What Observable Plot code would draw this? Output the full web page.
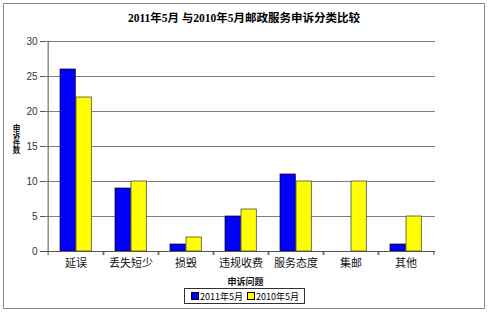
<!DOCTYPE html>
<html><head><meta charset="utf-8">
<script src="https://cdn.jsdelivr.net/npm/d3@7"></script>
<script src="https://cdn.jsdelivr.net/npm/@observablehq/plot@0.6"></script>
<style>
body{margin:0;background:#fff;}
#chart{position:relative;width:488px;height:312px;overflow:hidden;background:#fff;font-family:"Noto Sans CJK SC",sans-serif;}
#frame{position:absolute;left:3px;top:3px;width:482px;height:306px;border:1px solid #888;box-sizing:border-box;}
#title{position:absolute;left:0;top:10px;width:488px;text-align:center;font:bold 11.5px/16px "Liberation Serif","Noto Sans CJK SC",serif;color:#000;}
#plot{position:absolute;left:0;top:30px;}
#ylabel{position:absolute;left:12px;top:124px;writing-mode:vertical-rl;text-orientation:upright;font:bold 7.5px/9px "Noto Sans CJK SC",sans-serif;letter-spacing:0px;color:#111;}
#legend{position:absolute;left:184px;top:288px;width:121px;height:16px;border:1px solid #333;box-sizing:border-box;display:flex;align-items:center;font-size:9px;color:#000;padding-left:6px;}
#legend .sw{display:inline-block;width:6px;height:6px;border:1px solid #000;margin-right:1px;}
#legend .it{display:flex;align-items:center;margin-right:4px;}
</style></head>
<body>
<div id="chart">
  <div id="frame"></div>
  <div id="title"></div>
  <div id="plot"></div>
  <div id="ylabel"></div>
  <div id="legend"></div>
</div>
<script>
const title = "2011年5月 与2010年5月邮政服务申诉分类比较";
const categories = ["延误", "丢失短少", "损毁", "违规收费", "服务态度", "集邮", "其他"];
const series = ["2011年5月", "2010年5月"];
const values2011 = [26, 9, 1, 5, 11, 0, 1];
const values2010 = [22, 10, 2, 6, 10, 10, 5];
const yTicks = [0, 5, 10, 15, 20, 25, 30];
const yLabel = "申诉件数";
const xLabel = "申诉问题";
const colors = ["#0000FF", "#FFFF00"];

document.getElementById("title").textContent = title;
document.getElementById("ylabel").textContent = yLabel;

const W = 488, H = 259, mL = 45, mR = 53, mT = 11, mB = 38;
const step = (W - mL - mR) / categories.length;

const rows = categories.map((c, i) => ({cat: c, a: values2011[i], b: values2010[i]}));

const plot = Plot.plot({
  width: W, height: H,
  marginLeft: mL, marginRight: mR, marginTop: mT, marginBottom: mB,
  style: {fontFamily: "'Noto Sans CJK SC', sans-serif", background: "transparent", overflow: "visible"},
  x: {domain: categories, padding: 0, axis: null},
  y: {domain: [0, 30], axis: null},
  marks: [
    Plot.gridY(yTicks, {stroke: "#808080", strokeOpacity: 1}),
    Plot.barY(rows, {x: "cat", y: "a", fill: colors[0], stroke: "#000", strokeWidth: 0.7, insetLeft: 12, insetRight: step - 28}),
    Plot.barY(rows, {x: "cat", y: "b", fill: colors[1], stroke: "#333", strokeWidth: 0.7, insetLeft: 28, insetRight: step - 44}),
    Plot.ruleY([0], {stroke: "#555"}),
    Plot.ruleX([categories[0]], {y1: 0, y2: 30, dx: -step / 2, stroke: "#555"}),
    Plot.axisY({ticks: yTicks, tickSize: 5, tickPadding: 3, fontSize: 10, fontFamily: "'Liberation Sans', Arial, sans-serif", stroke: "#555", fill: "#333", label: null}),
    Plot.axisX({tickSize: 4, text: null, dx: -step / 2, stroke: "#555", label: null}),
    Plot.axisX({tickSize: 4, text: null, dx: step / 2, stroke: "#555", label: null}),
    Plot.axisX({tickSize: 0, tickPadding: 8, fontSize: 11, fill: "#111", label: null}),
    Plot.text([xLabel], {frameAnchor: "bottom", dy: 31, dx: 5, lineAnchor: "middle", fontSize: 9, fontWeight: "bold", fill: "#111"})
  ]
});
document.getElementById("plot").appendChild(plot);

const lg = document.getElementById("legend");
series.forEach((s, i) => {
  const it = document.createElement("span");
  it.className = "it";
  const sw = document.createElement("span");
  sw.className = "sw";
  sw.style.background = colors[i];
  const t = document.createElement("span");
  t.textContent = s;
  it.appendChild(sw); it.appendChild(t);
  lg.appendChild(it);
});
</script>
</body></html>
